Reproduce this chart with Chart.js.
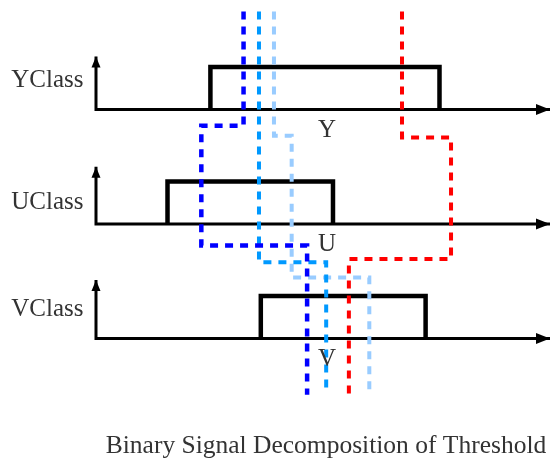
<!DOCTYPE html>
<html><head><meta charset="utf-8">
<script src="https://cdn.jsdelivr.net/npm/chart.js@4"></script>
<style>html,body{margin:0;padding:0;background:#fff}canvas{display:block}</style>
</head><body>
<canvas id="c" width="551" height="458"></canvas>
<script>
// ---- data (time on x, signal level on y) ----
const classes = ['YClass', 'UClass', 'VClass'];
const signalLetters = ['Y', 'U', 'V'];
const baseLevels = [5.4, 2.7, 0];          // baseline level of each class panel
const axisTop = [1.25, 1.35, 1.38];        // height of vertical axis arrow above baseline
const axisEnd = 100;                       // time axis end
const pulseRise = [25.2, 15.75, 36.3];
const pulseFall = [75.66, 52.2, 72.6];
const pulseHeight = 1;
const classLabelX = -2.75;
const classLabelDY = [0.72, 0.53, 0.71];
const letterX = 50.9;
const letterDY = [-0.46, -0.46, -0.47];
const titleText = 'Binary Signal Decomposition of Threshold';
const titleX = 50.66, titleY = -2.70;

// threshold paths
const darkBlueX  = [32.5, 32.5, 23.2, 23.2, 46.5, 46.5];
const darkBlueY  = [7.71, 5.02, 5.02, 2.19, 2.19, -1.33];
const midBlueX   = [35.9, 35.9, 50.7, 50.7];
const midBlueY   = [7.71, 1.80, 1.80, -1.26];
const lightBlueX = [39.2, 39.2, 43.1, 43.1, 60.2, 60.2];
const lightBlueY = [7.71, 4.78, 4.78, 1.44, 1.44, -1.26];
const redX       = [67.4, 67.4, 78.2, 78.2, 55.7, 55.7];
const redY       = [7.71, 4.74, 4.74, 1.875, 1.875, -1.33];

const pts = (xs, ys) => xs.map((x, i) => ({x, y: ys[i]}));

const datasets = [];
const thr = [
  [darkBlueX, darkBlueY, '#0000ff', 4.5],
  [midBlueX, midBlueY, '#0099ff', 4],
  [lightBlueX, lightBlueY, '#99ccff', 4],
  [redX, redY, '#ff0000', 4]
];
thr.forEach(([xs, ys, c, w]) => datasets.push({
  data: pts(xs, ys), borderColor: c, borderWidth: w, borderDash: [8, 7],
  showLine: true, pointRadius: 0, order: 0, borderJoinStyle: 'miter', borderCapStyle: 'butt'
}));
classes.forEach((cl, i) => {
  const b = baseLevels[i];
  datasets.push({
    data: pts([pulseRise[i], pulseRise[i], pulseFall[i], pulseFall[i]], [b, b + pulseHeight, b + pulseHeight, b]),
    borderColor: '#000', borderWidth: 4.5, showLine: true, pointRadius: 0, order: 1,
    borderJoinStyle: 'miter', borderCapStyle: 'butt'
  });
  datasets.push({
    axis: true,
    data: pts([0, 0, axisEnd], [b + axisTop[i], b, b]),
    borderColor: '#000', borderWidth: 3, showLine: true, pointRadius: 0, order: 2,
    borderJoinStyle: 'miter', borderCapStyle: 'butt'
  });
});

const serif = '"Liberation Serif", "Times New Roman", serif';
const overlay = {
  id: 'overlay',
  afterDatasetsDraw(chart) {
    const {ctx, scales: {x, y}} = chart;
    ctx.save();
    // arrowheads on axes
    chart.data.datasets.forEach(ds => {
      if (!ds.axis) return;
      const p = ds.data.map(d => [x.getPixelForValue(d.x), y.getPixelForValue(d.y)]);
      const heads = [[p[1], p[0], 11, 4.5], [p[p.length - 2], p[p.length - 1], 14, 5.5]];
      heads.forEach(([from, tip, len, hw]) => {
        const dx = tip[0] - from[0], dy = tip[1] - from[1];
        const L = Math.hypot(dx, dy), ux = dx / L, uy = dy / L;
        const bx = tip[0] - ux * len, by = tip[1] - uy * len;
        ctx.beginPath();
        ctx.moveTo(tip[0], tip[1]);
        ctx.lineTo(bx - uy * hw, by + ux * hw);
        ctx.lineTo(bx + uy * hw, by - ux * hw);
        ctx.closePath();
        ctx.fillStyle = '#000';
        ctx.fill();
      });
    });
    ctx.fillStyle = '#333';
    ctx.font = '25px ' + serif;
    ctx.textBaseline = 'middle';
    classes.forEach((cl, i) => {
      ctx.textAlign = 'right';
      ctx.fillText(cl, x.getPixelForValue(classLabelX), y.getPixelForValue(baseLevels[i] + classLabelDY[i]) + 1);
      ctx.textAlign = 'center';
      ctx.fillText(signalLetters[i], x.getPixelForValue(letterX), y.getPixelForValue(baseLevels[i] + letterDY[i]) + 1);
    });
    ctx.font = '25.5px ' + serif;
    ctx.textAlign = 'center';
    ctx.textBaseline = 'alphabetic';
    ctx.fillText(titleText, x.getPixelForValue(titleX), y.getPixelForValue(titleY));
    ctx.restore();
  }
};

new Chart(document.getElementById('c'), {
  type: 'scatter',
  data: {datasets},
  options: {
    responsive: false, animation: false, devicePixelRatio: 1,
    layout: {padding: 0},
    plugins: {legend: {display: false}, tooltip: {enabled: false}, title: {display: false}},
    elements: {line: {tension: 0}},
    scales: {
      x: {type: 'linear', min: -21.145, max: 100.22, display: false},
      y: {type: 'linear', min: -2.819, max: 7.983, display: false}
    }
  },
  plugins: [overlay]
});
</script>
</body></html>
